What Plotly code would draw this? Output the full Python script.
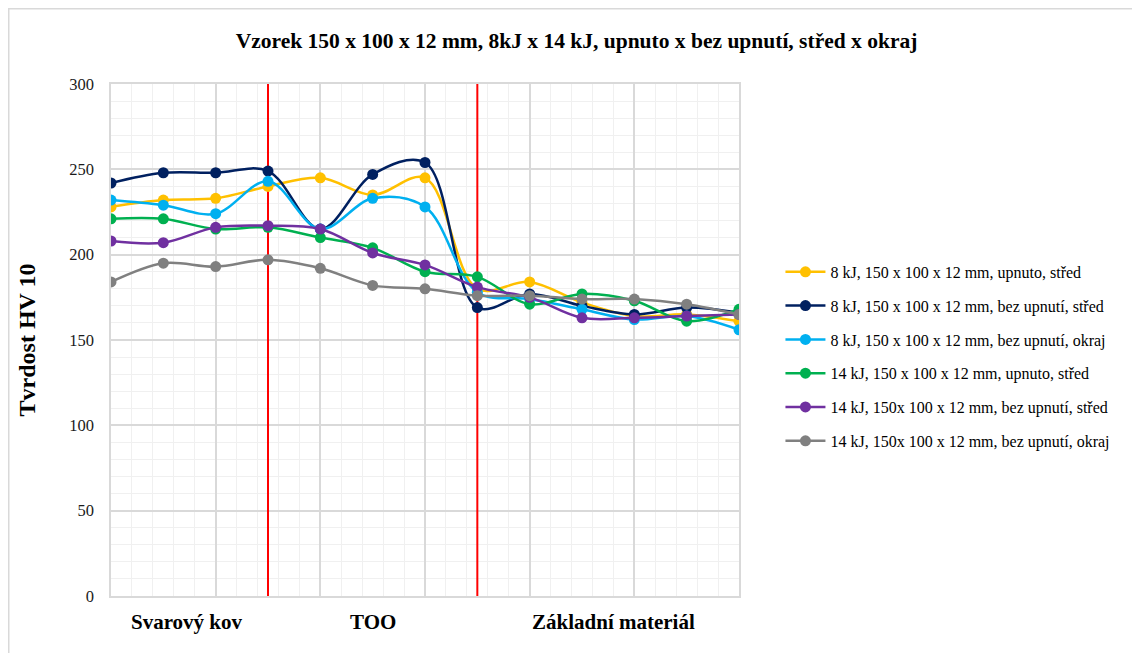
import plotly.graph_objects as go

positions = list(range(13))

series_names = [
    "8 kJ, 150 x 100 x 12 mm, upnuto, střed",
    "8 kJ, 150 x 100 x 12 mm, bez upnutí, střed",
    "8 kJ, 150 x 100 x 12 mm, bez upnutí, okraj",
    "14 kJ, 150 x 100 x 12 mm, upnuto, střed",
    "14 kJ, 150x 100 x 12 mm, bez upnutí, střed",
    "14 kJ, 150x 100 x 12 mm, bez upnutí, okraj",
]

s8_upnuto_stred = [228, 232, 233, 240, 245, 235, 245, 180, 184, 172, 164, 165, 161]
s8_bez_stred = [242, 248, 248, 249, 215, 247, 254, 169, 177, 170, 165, 169, 166]
s8_bez_okraj = [232, 229, 224, 243, 215, 233, 228, 178, 174, 168, 162, 164, 156]
s14_upnuto_stred = [221, 221, 215, 216, 210, 204, 190, 187, 171, 177, 173, 161, 168]
s14_bez_stred = [208, 207, 216, 217, 215, 201, 194, 181, 175, 163, 163, 164, 165]
s14_bez_okraj = [184, 195, 193, 197, 192, 182, 180, 176, 176, 174, 174, 171, 165]

series_values = [s8_upnuto_stred, s8_bez_stred, s8_bez_okraj,
                 s14_upnuto_stred, s14_bez_stred, s14_bez_okraj]
colors = ["#FFC000", "#002060", "#00B0F0", "#00B050", "#7030A0", "#808080"]

zone_boundaries = [3, 7]
zone_labels = ["Svarový kov", "TOO", "Základní materiál"]
zone_label_pos = [1.46, 5.0, 9.6]

title = "Vzorek 150 x 100 x 12 mm, 8kJ x 14 kJ, upnuto x bez upnutí, střed x okraj"
y_title = "Tvrdost HV 10"

SERIF = "Liberation Serif, Times New Roman, serif"

# plot area in figure pixels (page has an 8px body margin)
L, T, PW, PH = 103, 76, 628, 512
W, H = 1140, 653

fig = go.Figure()
for i, (name, vals, col) in enumerate(zip(series_names, series_values, colors)):
    fig.add_trace(go.Scatter(
        x=positions, y=vals, name=name, mode="lines+markers",
        line=dict(color=col, width=2.5, shape="spline", smoothing=1.0),
        marker=dict(color=col, size=11),
        legendgroup=f"g{i}",
    ))

for b in zone_boundaries:
    fig.add_shape(type="line", x0=b, x1=b, y0=0, y1=300, xref="x", yref="y",
                  line=dict(color="#FF0000", width=2), layer="between")

for lab, pos in zip(zone_labels, zone_label_pos):
    fig.add_annotation(x=pos, y=-0.051, xref="x", yref="paper", text=f"<b>{lab}</b>",
                       showarrow=False, yanchor="middle",
                       font=dict(family=SERIF, size=21, color="#000000"))

# outer chart border
fig.add_shape(type="rect", xref="paper", yref="paper",
              x0=(0.75 - L) / PW, x1=(W - 0.75 - L) / PW,
              y0=(T + PH - (H - 0.75)) / PH, y1=(T + PH - 0.75) / PH,
              line=dict(color="#D9D9D9", width=1.5), fillcolor="rgba(0,0,0,0)", layer="below")

fig.update_layout(
    width=W, height=H,
    paper_bgcolor="white", plot_bgcolor="white",
    margin=dict(l=L, r=W - L - PW, t=T, b=H - T - PH),
    title=dict(text=f"<b>{title}</b>", x=((238 + 915) / 2 - 8) / W, xanchor="center",
               y=1 - 32 / H, yanchor="middle",
               font=dict(family=SERIF, size=21.5, color="#000000")),
    legend=dict(x=1.066, y=0.468, xanchor="left", yanchor="middle",
                font=dict(family=SERIF, size=16, color="#000000"),
                tracegroupgap=10, bgcolor="rgba(0,0,0,0)", itemwidth=40),
    showlegend=True,
    font=dict(family=SERIF),
)

fig.update_xaxes(range=[0, 12], showticklabels=False, ticks="",
                 tickmode="linear", tick0=0, dtick=2,
                 showgrid=True, gridcolor="#D9D9D9", gridwidth=1.5,
                 minor=dict(tickmode="linear", tick0=0, dtick=0.4, showgrid=True,
                            gridcolor="#F0F0F0", gridwidth=1),
                 showline=True, linecolor="#D9D9D9", linewidth=1.5, mirror=True,
                 zeroline=False)
fig.update_yaxes(range=[0, 300], tickmode="linear", tick0=0, dtick=50,
                 ticks="outside", ticklen=12, tickcolor="rgba(0,0,0,0)",
                 tickfont=dict(family=SERIF, size=16.5, color="#1a1a1a"),
                 showgrid=True, gridcolor="#D9D9D9", gridwidth=1.5,
                 minor=dict(tickmode="linear", tick0=0, dtick=10, showgrid=True,
                            gridcolor="#F0F0F0", gridwidth=1),
                 showline=True, linecolor="#D9D9D9", linewidth=1.5, mirror=True,
                 zeroline=False,
                 title=dict(text=f"<b>{y_title}</b>", standoff=27,
                            font=dict(family=SERIF, size=24, color="#000000")))

fig.write_html("out.html")
